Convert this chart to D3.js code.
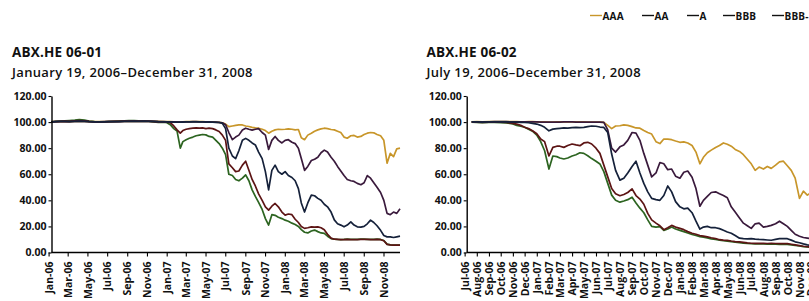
<!DOCTYPE html>
<html><head><meta charset="utf-8">
<script src="https://cdn.jsdelivr.net/npm/d3@7"></script>
<style>
body{margin:0;background:#fff;}
svg{display:block;font-family:"Open Sans",sans-serif;}
</style></head><body>
<svg id="c" width="809" height="301"></svg>
<script>
const seriesNames = ["AAA","AA","A","BBB","BBB-"];
const seriesColors = ["#c8962a","#3a1a3c","#15213a","#5c1414","#2c6420"];
const drawOrder = ["AAA","BBB-","BBB","AA","A"];
const yTicks = [0,20,40,60,80,100,120];

const leftTitle = "ABX.HE 06-01";
const leftSubtitle = "January 19, 2006\u2013December 31, 2008";
const rightTitle = "ABX.HE 06-02";
const rightSubtitle = "July 19, 2006\u2013December 31, 2008";

const leftTickLabels = ["Jan-06","Mar-06","May-06","Jul-06","Sep-06","Nov-06","Jan-07","Mar-07","May-07","Jul-07","Sep-07","Nov-07","Jan-08","Mar-08","May-08","Jul-08","Sep-08","Nov-08"];
const rightTickLabels = ["Jul-06","Aug-06","Sep-06","Oct-06","Nov-06","Dec-06","Jan-07","Feb-07","Mar-07","Apr-07","May-07","Jun-07","Jul-07","Aug-07","Sep-07","Oct-07","Nov-07","Dec-07","Jan-08","Feb-08","Mar-08","Apr-08","May-08","Jun-08","Jul-08","Aug-08","Sep-08","Oct-08","Nov-08","Dec-08"];

const leftDates = ["2006-01-19","2006-02-01","2006-02-15","2006-03-01","2006-03-15","2006-04-01","2006-04-15","2006-05-01","2006-05-15","2006-06-01","2006-06-15","2006-07-01","2006-07-15","2006-08-01","2006-08-15","2006-09-01","2006-09-15","2006-10-01","2006-10-15","2006-11-01","2006-11-15","2006-12-01","2006-12-15",
"2007-01-01","2007-01-11","2007-01-21","2007-02-01","2007-02-11","2007-02-21","2007-03-01","2007-03-11","2007-03-21","2007-04-01","2007-04-11","2007-04-21","2007-05-01","2007-05-11","2007-05-21","2007-06-01","2007-06-11","2007-06-21","2007-07-01","2007-07-11","2007-07-21","2007-08-01","2007-08-11","2007-08-21","2007-09-01","2007-09-11","2007-09-21","2007-10-01","2007-10-11","2007-10-21","2007-11-01","2007-11-11","2007-11-21","2007-12-01","2007-12-11","2007-12-21",
"2008-01-01","2008-01-11","2008-01-21","2008-02-01","2008-02-11","2008-02-21","2008-03-01","2008-03-11","2008-03-21","2008-04-01","2008-04-11","2008-04-21","2008-05-01","2008-05-11","2008-05-21","2008-06-01","2008-06-11","2008-06-21","2008-07-01","2008-07-11","2008-07-21","2008-08-01","2008-08-11","2008-08-21","2008-09-01","2008-09-11","2008-09-21","2008-10-01","2008-10-11","2008-10-21","2008-11-01","2008-11-11","2008-11-21","2008-12-01","2008-12-11","2008-12-21","2008-12-31"];

const leftAAA = [100.3,100.4,100.4,100.5,100.4,100.5,100.6,100.5,100.4,100.3,100.3,100.4,100.3,100.4,100.5,100.5,100.6,100.6,100.5,100.6,100.5,100.6,100.5,
100.4,100.3,100.3,100.2,100.1,100.0,100.2,100.3,100.3,100.4,100.4,100.3,100.3,100.2,100.2,100.1,100.0,99.8,99.5,98.5,96.5,97.0,97.5,97.8,97.8,97.0,96.6,96.0,95.5,95.3,94.5,93.5,91.5,93.0,94.0,94.5,
94.3,94.5,94.8,94.5,94.0,94.3,88.0,86.5,90.0,91.5,93.0,94.0,94.8,95.3,95.0,94.3,94.0,93.0,92.0,88.5,87.6,89.5,89.8,88.5,89.0,90.5,91.5,92.0,91.8,90.5,89.5,86.0,68.5,76.0,73.5,79.5,80.0];
const leftAA = [100.2,100.3,100.4,100.4,100.3,100.5,100.6,100.5,100.3,100.2,100.2,100.3,100.3,100.4,100.4,100.5,100.5,100.6,100.5,100.6,100.5,100.5,100.4,
100.3,100.2,100.2,100.1,100.0,100.0,100.1,100.2,100.2,100.3,100.3,100.2,100.2,100.1,100.1,100.0,99.9,99.8,99.5,98.0,92.0,86.5,88.5,90.0,94.0,95.3,94.5,93.8,94.5,95.0,92.0,90.0,79.0,86.0,89.0,86.0,
84.0,86.0,86.5,84.5,83.5,80.0,72.0,63.0,66.0,70.5,71.5,73.0,76.5,78.5,77.0,73.0,70.0,66.0,62.5,59.0,56.0,55.0,54.5,53.0,52.0,53.5,59.0,57.0,53.5,50.0,46.0,40.0,30.0,29.0,31.0,30.0,33.5];
const leftA = [100.1,100.3,100.5,100.5,100.4,100.6,100.8,100.6,100.3,100.1,100.1,100.2,100.3,100.4,100.4,100.5,100.6,100.7,100.6,100.7,100.6,100.5,100.3,
100.2,100.1,100.1,100.0,99.9,99.9,100.0,100.1,100.1,100.2,100.2,100.1,100.1,100.0,100.0,99.9,99.8,99.7,99.0,95.0,80.0,74.0,72.0,78.0,86.0,87.5,86.0,84.0,82.5,77.0,72.0,62.0,48.0,63.0,67.0,62.0,
60.0,62.0,59.0,57.5,55.0,49.0,38.0,31.0,38.0,44.0,43.5,41.5,40.0,37.0,35.0,31.0,25.0,22.0,21.0,19.7,21.0,23.5,21.0,19.7,19.5,20.0,22.0,24.8,23.0,20.5,17.0,13.0,12.0,12.0,11.5,12.0,12.5];
const leftBBB = [100.1,100.4,100.6,100.7,100.6,100.9,101.2,101.0,100.5,100.2,100.0,100.2,100.3,100.5,100.6,100.7,100.8,100.9,100.8,100.8,100.7,100.4,100.1,
100.0,100.0,99.5,97.0,94.0,91.5,93.5,94.5,95.0,95.3,95.5,95.3,95.5,95.0,95.3,95.0,94.0,92.8,90.0,86.0,68.0,65.0,62.0,62.5,67.0,70.0,63.0,56.0,51.0,45.0,40.0,35.0,32.5,35.5,37.6,35.0,
31.0,28.7,29.5,29.0,25.5,23.0,20.0,18.5,19.0,19.7,19.5,19.7,19.0,17.5,14.0,11.0,10.2,10.0,9.8,9.9,10.0,9.9,9.8,9.9,10.0,10.1,10.0,9.9,9.9,10.0,9.8,9.0,6.2,5.8,5.6,5.6,5.6];
const leftBBBm = [100.0,100.5,100.8,101.0,101.2,101.5,101.9,101.6,100.8,100.3,100.0,100.1,100.3,100.6,100.8,101.0,101.1,101.2,101.0,100.9,100.7,100.2,99.8,
100.0,99.5,98.0,95.0,93.0,80.0,85.0,86.5,87.6,88.5,89.5,90.0,90.5,90.2,89.0,88.5,86.0,83.5,80.0,75.0,60.0,59.0,56.0,55.0,57.0,59.5,55.0,48.0,43.0,38.5,33.0,26.0,21.0,29.0,28.5,27.0,
26.0,24.8,24.0,22.5,21.5,20.0,17.5,15.5,15.0,16.5,17.2,16.0,15.0,14.6,12.5,10.7,10.3,10.0,9.9,10.0,10.2,10.1,10.0,10.1,10.2,10.3,10.1,10.0,10.1,10.2,10.0,9.2,6.4,5.9,5.7,5.6,5.6];

const rightDates = ["2006-07-19","2006-08-01","2006-08-15","2006-09-01","2006-09-15","2006-10-01","2006-10-15","2006-11-01","2006-11-11","2006-11-21","2006-12-01","2006-12-11","2006-12-21",
"2007-01-01","2007-01-11","2007-01-21","2007-02-01","2007-02-11","2007-02-21","2007-03-01","2007-03-11","2007-03-21","2007-04-01","2007-04-11","2007-04-21","2007-05-01","2007-05-11","2007-05-21","2007-06-01","2007-06-11","2007-06-21","2007-07-01","2007-07-11","2007-07-21","2007-08-01","2007-08-11","2007-08-21","2007-09-01","2007-09-11","2007-09-21","2007-10-01","2007-10-11","2007-10-21","2007-11-01","2007-11-11","2007-11-21","2007-12-01","2007-12-11","2007-12-21",
"2008-01-01","2008-01-11","2008-01-21","2008-02-01","2008-02-11","2008-02-21","2008-03-01","2008-03-11","2008-03-21","2008-04-01","2008-04-11","2008-04-21","2008-05-01","2008-05-11","2008-05-21","2008-06-01","2008-06-11","2008-06-21","2008-07-01","2008-07-11","2008-07-21","2008-08-01","2008-08-11","2008-08-21","2008-09-01","2008-09-11","2008-09-21","2008-10-01","2008-10-11","2008-10-21","2008-11-01","2008-11-11","2008-11-21","2008-12-01","2008-12-11","2008-12-21","2008-12-31"];

const rightAAA = [100.2,100.3,100.2,100.3,100.3,100.4,100.4,100.3,100.3,100.2,100.2,100.3,100.3,
100.2,100.1,100.1,100.0,100.0,100.1,100.1,100.2,100.2,100.2,100.1,100.1,100.1,100.0,100.0,100.0,100.0,99.8,97.5,95.0,97.0,97.2,97.8,97.5,96.5,95.5,95.3,93.5,92.0,90.8,85.0,83.5,87.0,87.0,86.5,85.5,
84.5,84.8,84.0,82.0,77.0,68.0,73.0,76.5,78.5,80.5,82.0,84.0,83.0,81.5,79.0,77.5,75.0,71.5,68.0,63.0,65.5,64.0,66.0,64.5,67.0,69.5,70.0,66.5,63.0,57.0,41.5,47.0,44.0,46.0,45.0,43.0,42.0];
const rightAA = [100.2,100.2,100.1,100.2,100.3,100.3,100.3,100.2,100.2,100.1,100.1,100.2,100.2,
100.1,100.0,100.0,100.0,99.9,100.0,100.0,100.1,100.1,100.1,100.0,100.0,100.0,99.9,99.9,99.9,99.9,99.8,94.0,80.0,77.0,81.0,82.5,86.0,92.0,91.5,86.0,76.0,67.0,58.0,61.0,69.0,68.0,63.5,64.0,58.5,
57.0,61.5,62.5,57.7,49.0,35.5,40.0,43.0,46.0,46.5,45.0,43.7,42.0,35.0,31.0,26.5,22.5,20.5,18.5,22.0,22.5,19.5,20.0,20.8,22.0,24.0,22.0,20.0,17.0,14.0,12.5,11.5,11.0,10.5,10.0,9.8,9.5];
const rightA = [100.1,100.1,100.0,100.1,100.2,100.2,100.1,100.0,99.9,99.8,99.7,99.5,99.0,
98.5,97.5,96.0,93.3,94.6,95.0,95.2,95.5,95.3,95.8,96.0,95.8,96.0,96.5,97.0,96.8,96.2,95.9,92.0,75.5,63.0,55.5,57.0,61.0,66.0,70.0,61.0,53.0,46.5,41.5,40.5,40.0,43.7,51.0,46.5,39.0,
35.0,33.5,34.0,30.5,24.0,18.0,19.5,20.0,19.0,19.0,18.3,17.0,15.7,14.8,13.0,11.0,10.7,10.5,10.7,10.3,10.0,9.8,9.6,9.4,10.0,10.6,10.7,10.6,9.5,8.2,7.5,6.6,5.8,5.4,5.2,5.0,5.0];
const rightBBB = [100.1,100.0,99.8,99.9,100.0,99.9,99.7,99.0,98.4,97.5,96.0,95.0,93.3,
91.0,87.0,85.0,74.0,80.6,81.5,81.5,80.6,82.0,83.2,82.5,81.9,84.0,84.5,83.2,80.0,76.0,67.0,58.0,49.0,45.0,43.5,44.5,46.0,48.8,43.7,41.0,37.0,30.0,25.0,22.5,20.5,17.5,19.0,20.8,19.5,
18.5,17.5,16.0,14.8,14.0,13.0,12.6,12.0,11.3,10.7,9.8,9.5,9.3,8.8,8.4,8.1,7.8,7.4,7.1,7.0,7.0,7.0,6.9,7.0,6.9,6.8,6.9,6.8,6.3,5.8,5.3,4.8,4.4,4.2,4.1,4.0,4.0];
const rightBBBm = [100.0,99.8,99.6,99.7,99.8,99.6,99.4,98.6,97.5,96.8,96.0,94.5,93.0,
90.0,85.0,78.0,64.0,74.0,73.5,72.5,71.7,72.5,74.0,75.0,76.5,76.0,74.2,72.0,70.0,67.9,62.0,53.0,44.0,40.0,38.6,39.5,40.5,42.4,38.0,34.0,30.5,25.0,20.0,19.5,19.8,17.0,18.0,19.5,18.0,
17.0,16.0,15.0,13.8,13.0,12.2,11.8,11.2,10.5,10.0,9.4,9.0,8.7,8.3,8.0,7.6,7.2,6.9,6.7,6.6,6.5,6.5,6.4,6.5,6.4,6.3,6.4,6.3,5.9,5.4,5.0,4.5,4.2,4.0,3.9,3.8,3.8];

const parseDay = d3.timeParse("%Y-%m-%d");
const parseTick = d3.timeParse("%b-%y");
const svg = d3.select("#c");
svg.append("rect").attr("width",809).attr("height",301).attr("fill","#fff");

const y = d3.scaleLinear().domain([0,120]).range([252.5,96]);
const tickFont = {size:"10.5px", weight:700};

function drawPanel(cfg){
  const g = svg.append("g");
  const dates = cfg.dates.map(parseDay);
  const x = d3.scaleTime().domain([dates[0], dates[dates.length-1]]).range([cfg.x0, cfg.x1]);

  g.append("text").attr("x",cfg.titleX).attr("y",57).attr("font-size","13.5px").attr("font-weight",700)
    .attr("letter-spacing","0.2px").attr("fill","#111").text(cfg.title);
  g.append("text").attr("x",cfg.titleX).attr("y",76.5).attr("font-size","13px").attr("font-weight",600)
    .attr("letter-spacing","0.35px").attr("fill","#111").text(cfg.subtitle);

  const line = d3.line().x(d=>x(d.date)).y(d=>y(d.v));
  drawOrder.forEach(name=>{
    const i = seriesNames.indexOf(name);
    const vals = cfg.series[i];
    const pts = vals.map((v,k)=>({date:dates[k], v}));
    g.append("path").datum(pts).attr("d",line).attr("fill","none")
      .attr("stroke",seriesColors[i]).attr("stroke-width",1.7).attr("stroke-linejoin","round");
  });

  const ya = g.append("g").attr("transform",`translate(${cfg.axisX},0)`)
    .call(d3.axisLeft(y).tickValues(yTicks).tickSize(3).tickSizeOuter(0).tickPadding(2).tickFormat(d3.format(".2f")));
  ya.select(".domain").attr("stroke","#000").attr("stroke-width",1.4);
  ya.selectAll(".tick line").attr("stroke","#000").attr("stroke-width",1.1);
  ya.selectAll("text").attr("font-family","'Open Sans',sans-serif").attr("font-size",tickFont.size).attr("font-weight",tickFont.weight).attr("fill","#111");

  const tickDates = cfg.tickLabels.map(s=>d3.timeDay.offset(parseTick(s), cfg.tickOffsetDays));
  const xa = g.append("g").attr("transform",`translate(0,${y(0)})`)
    .call(d3.axisBottom(x).tickValues(tickDates).tickSize(4).tickSizeOuter(0).tickFormat((d,i)=>cfg.tickLabels[i]));
  xa.select(".domain").remove();
  xa.append("line").attr("x1",cfg.axisX).attr("x2",cfg.x1).attr("y1",0).attr("y2",0).attr("stroke","#000").attr("stroke-width",1.4);
  xa.selectAll(".tick line").attr("stroke","#000").attr("stroke-width",1.1);
  xa.selectAll("text").attr("font-family","'Open Sans',sans-serif").attr("font-size",tickFont.size).attr("font-weight",tickFont.weight).attr("fill","#111")
    .attr("transform","rotate(-90)").attr("text-anchor","end").attr("x",-9).attr("y",0).attr("dy","0.35em");
}

drawPanel({dates:leftDates, series:[leftAAA,leftAA,leftA,leftBBB,leftBBBm], x0:51.5, x1:400, axisX:51.5,
  titleX:12, title:leftTitle, subtitle:leftSubtitle, tickLabels:leftTickLabels, tickOffsetDays:9});
drawPanel({dates:rightDates, series:[rightAAA,rightAA,rightA,rightBBB,rightBBBm], x0:471.7, x1:823, axisX:466.7,
  titleX:426.5, title:rightTitle, subtitle:rightSubtitle, tickLabels:rightTickLabels, tickOffsetDays:0});

const legendX = [590,642,687,723,772];
const lg = svg.append("g");
seriesNames.forEach((n,i)=>{
  lg.append("line").attr("x1",legendX[i]).attr("x2",legendX[i]+12).attr("y1",15.5).attr("y2",15.5)
    .attr("stroke", i===0 ? seriesColors[0] : "#111").attr("stroke-width",1.4);
  lg.append("text").attr("x",legendX[i]+12.5).attr("y",19.5).attr("font-size","10px").attr("font-weight",700)
    .attr("letter-spacing","0.2px").attr("fill","#111").text(n);
});
</script>
</body></html>
